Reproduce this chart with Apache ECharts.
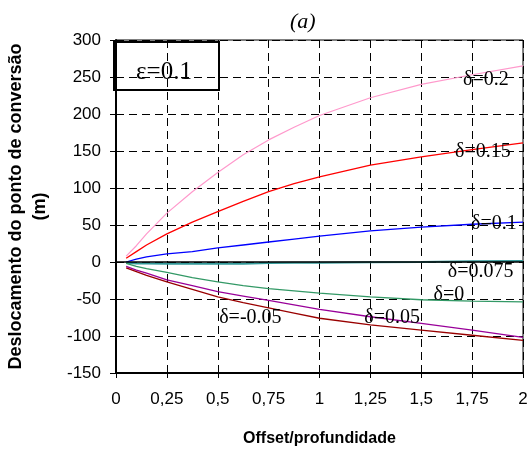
<!DOCTYPE html>
<html>
<head>
<meta charset="utf-8">
<script src="https://cdn.jsdelivr.net/npm/echarts@6/dist/echarts.min.js"></script>
<style>
  html, body { margin: 0; padding: 0; background: #fff; }
  #chart { width: 530px; height: 449px; }
</style>
</head>
<body>
<div id="chart"></div>
<script>
  // offset/profundidade sample points (shared by all curves)
  const offsets = [0.05, 0.1, 0.15, 0.25, 0.375, 0.5, 0.625, 0.75, 0.875, 1, 1.25, 1.5, 1.75, 2]

  // deslocamento (m) for each delta
  const d020 = [8, 22, 38, 66, 95, 121, 145, 165, 182, 198, 222, 240, 253, 265]
  const d015 = [5, 14, 23, 38, 54, 68, 82, 95, 106, 115, 131, 142, 152, 161]
  const d010 = [0, 4, 7, 11, 14, 19, 23, 27, 31, 35, 42, 47, 51, 54]
  const d0075 = [-1, -2, -2, -2.5, -2.5, -2.5, -2.5, -1.5, -1, -1, -0.5, 0, 1, 1.5]
  const d000 = [-2, -6, -9, -14, -21, -27, -32, -36, -39, -42, -47, -51, -53, -54]
  const d005 = [-6, -11, -15, -24, -32, -40, -46, -52, -58, -64, -74, -83, -92, -102]
  const dm005 = [-8, -13, -18, -27, -37, -47, -55, -62, -69, -76, -85, -92, -99, -106]

  const xTicks = ['0', '0,25', '0,5', '0,75', '1', '1,25', '1,5', '1,75', '2']

  const chart = echarts.init(document.getElementById('chart'))

  const serif = 'Liberation Serif, Times New Roman, serif'
  const sans = 'Liberation Sans, Arial, sans-serif'

  // curve builder, label is placed at [x, y] in data space
  const curve = (name, ys, color, width, labelAt, extra) => Object.assign({
    name: name,
    type: 'line',
    data: offsets.map((x, i) => [x, ys[i]]),
    showSymbol: false,
    symbol: 'none',
    lineStyle: { color: color, width: width },
    itemStyle: { color: color },
    markPoint: {
      silent: true,
      symbol: 'circle',
      symbolSize: 0,
      data: [{ coord: labelAt }],
      label: {
        show: true,
        position: 'right',
        distance: 0,
        formatter: name,
        color: '#000',
        fontFamily: serif,
        fontSize: 20
      }
    }
  }, extra || {})

  const option = {
    animation: false,
    backgroundColor: '#fff',
    title: {
      text: '(a)',
      left: 290,
      top: 11,
      padding: 0,
      textStyle: {
        fontFamily: serif,
        fontStyle: 'italic',
        fontWeight: 'normal',
        fontSize: 22,
        color: '#000'
      }
    },
    grid: {
      left: 116,
      right: 7,
      top: 40,
      bottom: 76,
      outerBoundsMode: 'none',
      show: true,
      borderColor: '#000',
      borderWidth: 1
    },
    xAxis: {
      type: 'value',
      min: 0,
      max: 2,
      interval: 0.25,
      name: 'Offset/profundidade',
      nameLocation: 'middle',
      nameGap: 58,
      nameTextStyle: { fontFamily: sans, fontWeight: 'bold', fontSize: 16, color: '#000' },
      axisLine: { onZero: false, lineStyle: { color: '#000', width: 2 } },
      axisTick: { show: true, length: 5, lineStyle: { color: '#000' } },
      axisLabel: {
        margin: 18,
        fontFamily: sans,
        fontSize: 17,
        color: '#000',
        formatter: (v) => xTicks[Math.round(v / 0.25)]
      },
      splitLine: { show: true, lineStyle: { color: '#000', type: [8, 5], width: 1 } }
    },
    yAxis: {
      type: 'value',
      min: -150,
      max: 300,
      interval: 50,
      name: 'Deslocamento do ponto de conversão\n(m)',
      nameLocation: 'middle',
      nameGap: 64,
      nameRotate: 90,
      nameTextStyle: { fontFamily: sans, fontWeight: 'bold', fontSize: 18, lineHeight: 24, color: '#000' },
      axisLine: { show: true, lineStyle: { color: '#000', width: 2 } },
      axisTick: { show: true, length: 6, lineStyle: { color: '#000' } },
      axisLabel: { margin: 15, fontFamily: sans, fontSize: 17, color: '#000' },
      splitLine: { show: true, lineStyle: { color: '#000', type: [8, 5], width: 1 } }
    },
    series: [
      curve('δ=0.2', d020, '#ff99cc', 1.2, [1.705, 246]),
      curve('δ=0.15', d015, '#ff0000', 1.3, [1.666, 149]),
      curve('δ=0.1', d010, '#0000ff', 1.3, [1.745, 52]),
      curve('δ=0.075', d0075, '#339999', 2, [1.63, -13], {
        // solid zero line drawn over the near-zero curve
        markLine: {
          silent: true,
          symbol: 'none',
          label: { show: false },
          lineStyle: { color: '#000', width: 1.5, type: 'solid' },
          data: [{ yAxis: 0 }]
        }
      }),
      curve('δ=0', d000, '#339966', 1.3, [1.56, -44]),
      curve('δ=0.05', d005, '#990099', 1.3, [1.22, -75]),
      curve('δ=-0.05', dm005, '#990000', 1.3, [0.507, -75])
    ],
    graphic: [
      {
        type: 'group',
        left: 113,
        top: 41,
        children: [
          {
            type: 'rect',
            shape: { x: 0, y: 0, width: 105, height: 48 },
            style: { fill: '#fff', stroke: '#000', lineWidth: 2 }
          },
          {
            type: 'text',
            x: 50,
            y: 30,
            style: {
              text: 'ε=0.1',
              fontFamily: serif,
              fontSize: 25,
              fill: '#000',
              align: 'center',
              verticalAlign: 'middle'
            }
          }
        ]
      }
    ]
  }

  chart.setOption(option)
</script>
</body>
</html>
